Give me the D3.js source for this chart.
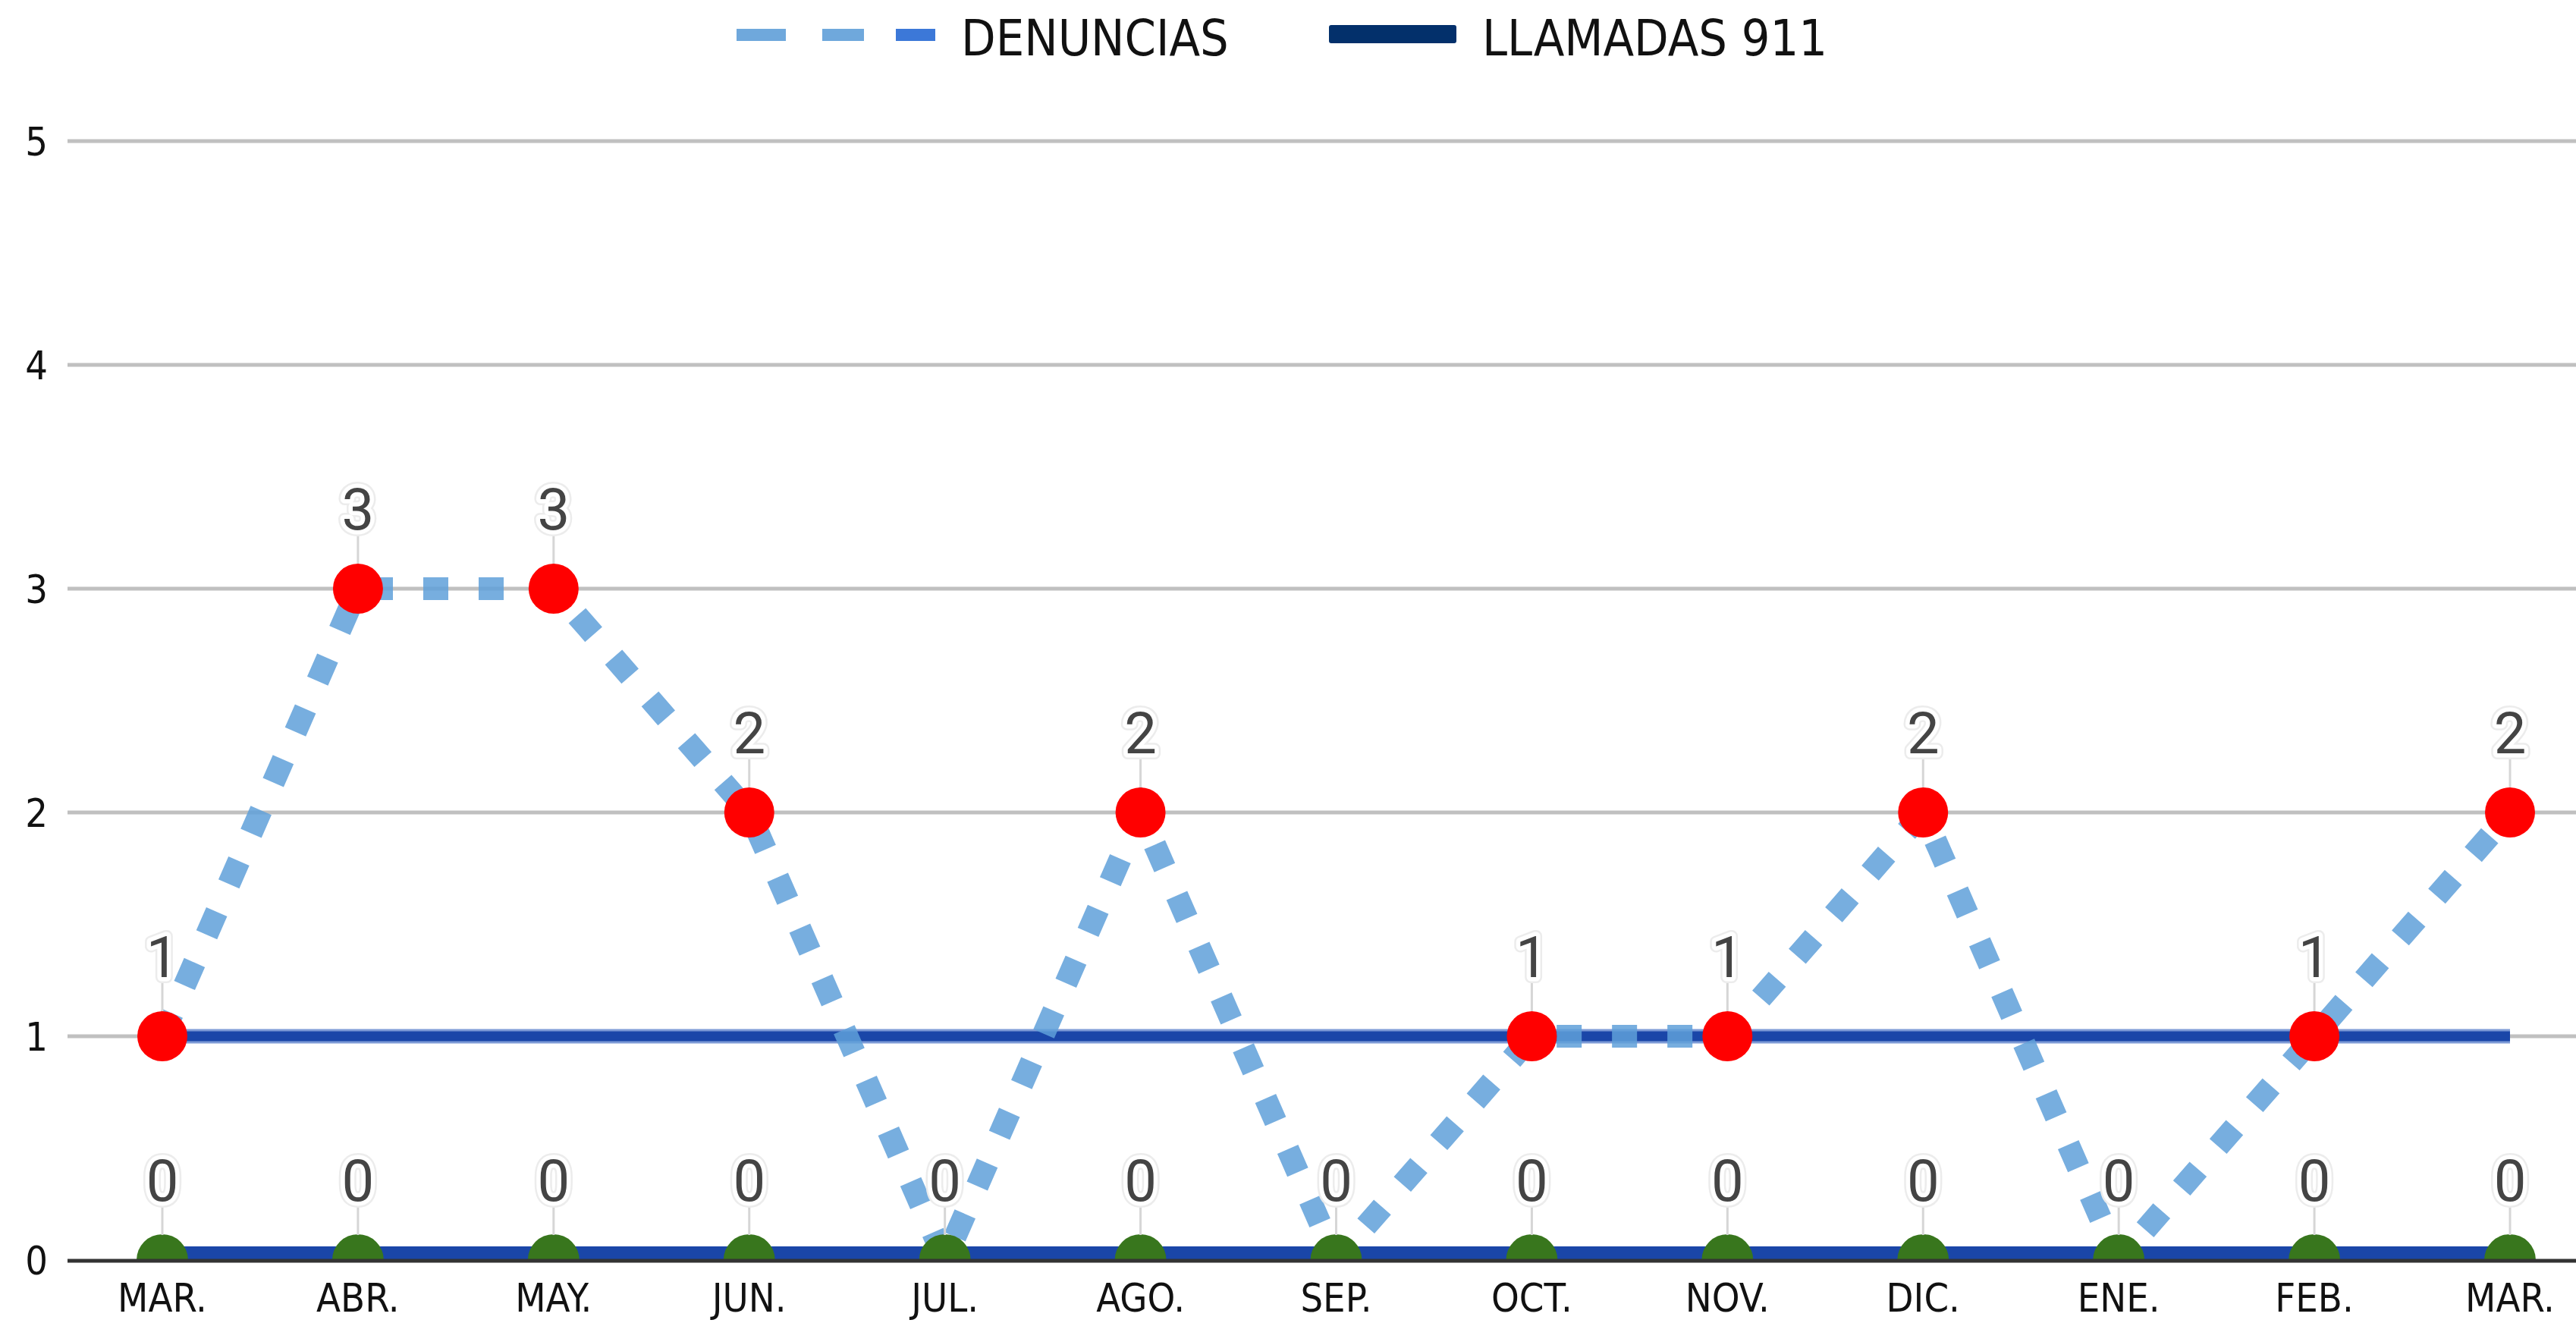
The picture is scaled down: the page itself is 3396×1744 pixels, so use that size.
<!DOCTYPE html>
<meta charset="utf-8">
<style>
body { margin: 0; background: #fff; }
.grid line { stroke: #c0c0c0; stroke-width: 5; }
.tick-label { font-family: "DejaVu Sans Condensed", "DejaVu Sans", sans-serif; font-stretch: condensed; fill: #111; }
.data-label { font-family: Roboto, sans-serif; font-size: 76px; fill: #444; text-anchor: middle; }
</style>
<svg width="3396" height="1744"></svg>
<script src="https://cdn.jsdelivr.net/npm/d3@7"></script>
<script>

var months = ["MAR.", "ABR.", "MAY.", "JUN.", "JUL.", "AGO.", "SEP.", "OCT.", "NOV.", "DIC.", "ENE.", "FEB.", "MAR."];
var denuncias = [1, 3, 3, 2, 0, 2, 0, 1, 1, 2, 0, 1, 2];
var llamadas = [0, 0, 0, 0, 0, 0, 0, 0, 0, 0, 0, 0, 0];
var referencia = [1, 1, 1, 1, 1, 1, 1, 1, 1, 1, 1, 1, 1];
var yTicks = [0, 1, 2, 3, 4, 5];

var svg = d3.select("svg"),
    width = +svg.attr("width"),
    height = +svg.attr("height");

var x = d3.scalePoint().domain(d3.range(months.length)).range([214, 3309]);
var y = d3.scaleLinear().domain([0, 5]).range([1661, 186]);
var gridLeft = 89;

// clip everything above the baseline
svg.append("defs").append("clipPath").attr("id", "plot")
  .append("rect").attr("x", 0).attr("y", 0).attr("width", width).attr("height", y(0));

// gridlines + y labels
var grid = svg.append("g").attr("class", "grid");
grid.selectAll("line").data(yTicks.filter(function(d){ return d > 0; })).enter()
  .append("line")
  .attr("x1", gridLeft).attr("x2", width)
  .attr("y1", function(d){ return y(d); }).attr("y2", function(d){ return y(d); });

svg.append("g").selectAll("text").data(yTicks).enter()
  .append("text").attr("class", "tick-label")
  .attr("x", 63).attr("y", function(d){ return y(d); })
  .attr("dy", "0.36em").attr("text-anchor", "end")
  .style("font-size", "52px")
  .text(function(d){ return d; });

var line = function(vals) {
  return d3.line().x(function(d, i){ return x(i); }).y(function(d){ return y(d); })(vals);
};

var plot = svg.append("g").attr("clip-path", "url(#plot)");

// reference line at 1
plot.append("path").attr("d", line(referencia))
  .attr("fill", "none").attr("stroke", "#7d9ad6").attr("stroke-width", 19);
plot.append("path").attr("d", line(referencia))
  .attr("fill", "none").attr("stroke", "#1a46a8").attr("stroke-width", 13);

// denuncias dashed
plot.append("path").attr("d", line(denuncias))
  .attr("fill", "none").attr("stroke", "#5fa0d9").attr("stroke-opacity", 0.85)
  .attr("stroke-width", 30).attr("stroke-dasharray", "33,40");

// llamadas line on the baseline
plot.append("path").attr("d", line(llamadas))
  .attr("fill", "none").attr("stroke", "#1a46a8").attr("stroke-width", 36);

// markers
plot.append("g").selectAll("circle").data(denuncias).enter()
  .append("circle")
  .attr("cx", function(d, i){ return x(i); }).attr("cy", function(d){ return y(d); })
  .attr("r", 33).attr("fill", "#ff0000");

plot.append("g").selectAll("circle").data(llamadas).enter()
  .append("circle")
  .attr("cx", function(d, i){ return x(i); }).attr("cy", function(d){ return y(d); })
  .attr("r", 34).attr("fill", "#38761d");

// data labels with leaders
function labels(vals, filter) {
  var g = svg.append("g");
  var pts = vals.map(function(v, i){ return {v: v, i: i}; }).filter(filter);
  g.selectAll("line").data(pts).enter().append("line")
    .attr("x1", function(d){ return x(d.i); }).attr("x2", function(d){ return x(d.i); })
    .attr("y1", function(d){ return y(d.v) - 70; }).attr("y2", function(d){ return y(d.v) - 33; })
    .attr("stroke", "#d6d6d6").attr("stroke-width", 3);
  var t = g.selectAll("g").data(pts).enter().append("g");
  [["#ececec", 16], ["#fff", 11]].forEach(function(s){
    t.append("text").attr("class", "data-label")
      .attr("x", function(d){ return x(d.i); }).attr("y", function(d){ return y(d.v) - 78; })
      .attr("stroke", s[0]).attr("stroke-width", s[1]).attr("stroke-linejoin", "round")
      .text(function(d){ return d.v; });
  });
  t.append("text").attr("class", "data-label")
    .attr("x", function(d){ return x(d.i); }).attr("y", function(d){ return y(d.v) - 78; })
    .text(function(d){ return d.v; });
}
labels(denuncias, function(d){ return d.v > 0; });
labels(llamadas, function(){ return true; });

// x axis line + labels
svg.append("line").attr("x1", gridLeft).attr("x2", width)
  .attr("y1", y(0) + 1).attr("y2", y(0) + 1)
  .attr("stroke", "#333").attr("stroke-width", 5);

svg.append("g").selectAll("text").data(months).enter()
  .append("text").attr("class", "tick-label")
  .attr("x", function(d, i){ return x(i); }).attr("y", 1729)
  .attr("text-anchor", "middle").style("font-size", "52px")
  .text(function(d){ return d; });

// legend
var legend = svg.append("g");
var dashes = [[971, 65, "#6fa8dc"], [1084, 55, "#6fa8dc"], [1181, 52, "#3c78d8"]];
legend.selectAll("rect.d").data(dashes).enter().append("rect")
  .attr("x", function(d){ return d[0]; }).attr("y", 38)
  .attr("width", function(d){ return d[1]; }).attr("height", 16)
  .attr("fill", function(d){ return d[2]; });
legend.append("text").attr("class", "tick-label").attr("x", 1267).attr("y", 73)
  .style("font-size", "66px").text("DENUNCIAS");
legend.append("rect").attr("x", 1752).attr("y", 33).attr("width", 168).attr("height", 24)
  .attr("rx", 3).attr("fill", "#03306b");
legend.append("text").attr("class", "tick-label").attr("x", 1954).attr("y", 73)
  .style("font-size", "66px").text("LLAMADAS 911");

</script>
